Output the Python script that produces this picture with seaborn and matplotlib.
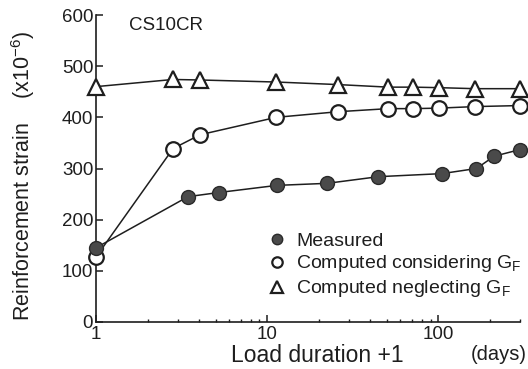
import numpy as np
import pandas as pd
import matplotlib
matplotlib.use("Agg")
import matplotlib.pyplot as plt
import seaborn as sns
from matplotlib.lines import Line2D
from matplotlib.ticker import FixedLocator, NullFormatter

# ---- data ----
meas_days = [1, 3.45, 5.2, 11.4, 22.4, 44.6, 105, 167, 212, 300]
meas_strain = [145, 245, 253, 267, 271, 284, 290, 300, 324, 337]

cons_days = [1, 2.82, 4.06, 11.3, 26, 51, 71.4, 101, 164, 300]
cons_strain = [127, 339, 366, 400, 411, 417, 417, 418, 421, 423]

negl_days = [1, 2.82, 4.06, 11.3, 26, 51, 71.4, 101, 164, 300]
negl_strain = [460, 474, 473, 469, 464, 459, 459, 458, 456, 456]

series_labels = ["Measured", r"Computed considering G$_F$", r"Computed neglecting G$_F$"]
y_ticks = [0, 100, 200, 300, 400, 500, 600]
x_ticks = [1, 10, 100]
x_tick_labels = ["1", "10", "100"]

sns.set_theme(style="ticks")
plt.rcParams["font.family"] = ["Liberation Sans", "DejaVu Sans"]
plt.rcParams["mathtext.default"] = "regular"

fig = plt.figure(figsize=(5.28, 3.69), dpi=100)
ax = fig.add_axes([96 / 528, 1 - 322 / 369, 424 / 528, 307 / 369])

ink = "#1e1e1e"
lw = 1.1

df_m = pd.DataFrame({"d": meas_days, "s": meas_strain})
df_c = pd.DataFrame({"d": cons_days, "s": cons_strain})
df_n = pd.DataFrame({"d": negl_days, "s": negl_strain})

sns.lineplot(data=df_n, x="d", y="s", ax=ax, color=ink, lw=lw, marker="^",
             markersize=11, markerfacecolor="white", markeredgecolor=ink,
             markeredgewidth=1.6, estimator=None, sort=False, clip_on=False, zorder=3)
sns.lineplot(data=df_c, x="d", y="s", ax=ax, color=ink, lw=lw, marker="o",
             markersize=10.5, markerfacecolor="white", markeredgecolor=ink,
             markeredgewidth=1.6, estimator=None, sort=False, clip_on=False, zorder=4)
sns.lineplot(data=df_m, x="d", y="s", ax=ax, color=ink, lw=lw, marker="o",
             markersize=10, markerfacecolor="#4a4a4a", markeredgecolor="#2a2a2a",
             markeredgewidth=1.0, estimator=None, sort=False, clip_on=False, zorder=5)

ax.set_xscale("log")
ax.set_xlim(1, 300)
ax.set_ylim(0, 600)
ax.set_yticks(y_ticks)
ax.set_yticklabels([str(v) for v in y_ticks])
ax.xaxis.set_major_locator(FixedLocator(x_ticks))
ax.set_xticklabels(x_tick_labels)
minor = [k * 10 ** e for e in range(0, 3) for k in range(2, 10) if k * 10 ** e <= 300]
ax.xaxis.set_minor_locator(FixedLocator(minor))
ax.xaxis.set_minor_formatter(NullFormatter())

for s in ["top", "right"]:
    ax.spines[s].set_visible(False)
for s in ["left", "bottom"]:
    ax.spines[s].set_linewidth(1.2)
    ax.spines[s].set_color(ink)

ax.tick_params(axis="y", direction="in", length=5, width=1.1, pad=2,
               labelsize=13.5, colors=ink)
ax.tick_params(axis="x", which="major", direction="in", length=5, width=1.1,
               pad=3, labelsize=13.5, colors=ink)
ax.tick_params(axis="x", which="minor", direction="in", length=2.5, width=1.0, colors=ink)

ax.set_xlabel("")
ax.set_ylabel("")
fig.text(23 / 528, 1 - 176 / 369, "Reinforcement strain    (x10$^{-6}$)",
         rotation=90, ha="center", va="center", fontsize=15.5, color=ink)

fig.text(317 / 528, 1 - 355 / 369, "Load duration +1", ha="center", va="center",
         fontsize=16.5, color=ink)
fig.text(527 / 528, 1 - 355 / 369, "(days)", ha="right", va="center",
         fontsize=14.5, color=ink)
fig.text(129 / 528, 1 - 25 / 369, "CS10CR", ha="left", va="center",
         fontsize=13.5, color=ink)

handles = [
    Line2D([], [], ls="none", marker="o", markersize=7.5, markerfacecolor="#4a4a4a",
           markeredgecolor="#2a2a2a", markeredgewidth=1.0),
    Line2D([], [], ls="none", marker="o", markersize=7.5, markerfacecolor="white",
           markeredgecolor=ink, markeredgewidth=1.6),
    Line2D([], [], ls="none", marker="^", markersize=8, markerfacecolor="white",
           markeredgecolor=ink, markeredgewidth=1.6),
]
leg = ax.legend(handles, series_labels, frameon=False, loc="upper left",
                bbox_to_anchor=(268 / 528, 1 - 232 / 369), bbox_transform=fig.transFigure,
                fontsize=14, handlelength=0.9, handletextpad=0.55, labelspacing=0.2,
                borderpad=0, borderaxespad=0)
for t in leg.get_texts():
    t.set_color(ink)

fig.savefig("out.png", dpi=100)
